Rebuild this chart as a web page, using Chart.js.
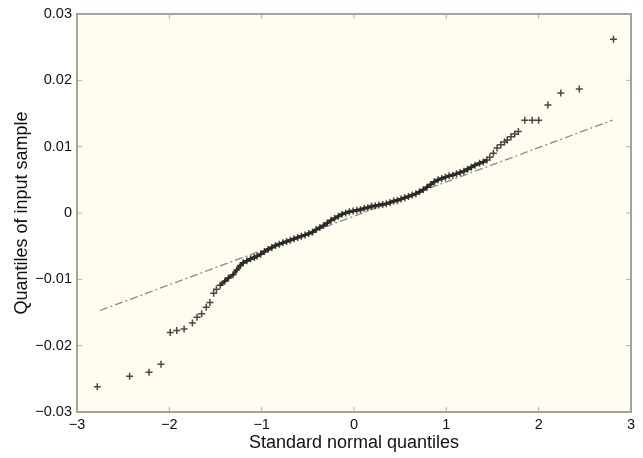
<!DOCTYPE html>
<html lang="en">
<head>
<meta charset="utf-8">
<script src="https://cdn.jsdelivr.net/npm/chart.js"></script>
<style>
  html, body { margin: 0; padding: 0; background: #ffffff; }
  #wrap { width: 643px; height: 458px; }
</style>
</head>
<body>
<div id="wrap"><canvas id="qq"></canvas></div>
<script>
// sample quantiles vs standard normal quantiles
const normalQ = [
  -2.78, -2.43, -2.22, -2.09, -1.99, -1.92, -1.84, -1.75, -1.70, -1.65, -1.60, -1.56, -1.52, -1.49,
  -1.45, -1.40, -1.36, -1.31, -1.27, -1.23, -1.20, -1.16, -1.12, -1.08, -1.05, -1.01, -0.97, -0.93,
  -0.89, -0.85, -0.81, -0.77, -0.73, -0.69, -0.65, -0.61, -0.57, -0.53, -0.49, -0.45, -0.41, -0.37,
  -0.33, -0.29, -0.25, -0.21, -0.17, -0.13, -0.09, -0.05, -0.01, 0.03, 0.07, 0.11, 0.15, 0.19,
  0.23, 0.27, 0.31, 0.35, 0.39, 0.43, 0.47, 0.51, 0.55, 0.59, 0.63, 0.67, 0.71, 0.75,
  0.79, 0.83, 0.87, 0.91, 0.95, 0.99, 1.03, 1.07, 1.11, 1.15, 1.19, 1.23, 1.27, 1.31,
  1.36, 1.40, 1.44, 1.47, 1.51, 1.55, 1.59, 1.63, 1.66, 1.70, 1.74, 1.78, 1.85, 1.93,
  2.00, 2.10, 2.24, 2.44, 2.81
];
const sampleQ = [
  -0.0262, -0.0246, -0.0240, -0.0228, -0.0180, -0.0177, -0.0175, -0.0166, -0.0157, -0.0152, -0.0142, -0.0135, -0.0121, -0.0115,
  -0.0109, -0.0103, -0.0098, -0.0093, -0.0086, -0.0079, -0.0075, -0.0072, -0.0069, -0.0067, -0.0065, -0.0062, -0.0058, -0.0055,
  -0.0052, -0.0049, -0.0047, -0.0045, -0.0043, -0.0041, -0.0039, -0.0037, -0.0035, -0.0033, -0.0031, -0.0029, -0.0025, -0.0022,
  -0.0019, -0.0015, -0.0011, -0.0008, -0.0005, -0.0002, 0.0000, 0.0002, 0.0003, 0.0004, 0.0005, 0.0007, 0.0008, 0.0010,
  0.0011, 0.0012, 0.0013, 0.0014, 0.0016, 0.0018, 0.0019, 0.0021, 0.0023, 0.0025, 0.0027, 0.0029, 0.0032, 0.0035,
  0.0039, 0.0043, 0.0047, 0.0050, 0.0052, 0.0054, 0.0056, 0.0057, 0.0059, 0.0061, 0.0063, 0.0066, 0.0069, 0.0072,
  0.0075, 0.0077, 0.0080, 0.0084, 0.0090, 0.0098, 0.0103, 0.0107, 0.0110, 0.0115, 0.0119, 0.0123, 0.0140, 0.0140,
  0.0140, 0.0163, 0.0181, 0.0187, 0.0262
];
// reference line end points
const refX = [-2.75, 2.8];
const refY = [-0.0147, 0.0140];

const xTicks = [-3, -2, -1, 0, 1, 2, 3];
const yTicks = [-0.03, -0.02, -0.01, 0, 0.01, 0.02, 0.03];

const fmt = v => {
  const r = Math.round(v * 1000) / 1000;
  if (r === 0) return '0';
  return (r < 0 ? '\u2212' : '') + String(Math.abs(r));
};

// cream plot box, frame and inward tick marks like the original
const boxPlugin = {
  id: 'box',
  beforeDraw(chart) {
    const { ctx, chartArea: a } = chart;
    ctx.save();
    ctx.fillStyle = '#fefdf0';
    ctx.fillRect(a.left, a.top, a.right - a.left, a.bottom - a.top);
    ctx.restore();
  },
  afterDraw(chart) {
    const { ctx, chartArea: a, scales } = chart;
    ctx.save();
    ctx.strokeStyle = '#b3b1a6';
    ctx.lineWidth = 1;
    ctx.beginPath();
    xTicks.forEach(t => {
      const px = scales.x.getPixelForValue(t);
      ctx.moveTo(px, a.bottom); ctx.lineTo(px, a.bottom - 5);
      ctx.moveTo(px, a.top); ctx.lineTo(px, a.top + 5);
    });
    yTicks.forEach(t => {
      const py = scales.y.getPixelForValue(t);
      ctx.moveTo(a.left, py); ctx.lineTo(a.left + 5, py);
      ctx.moveTo(a.right, py); ctx.lineTo(a.right - 5, py);
    });
    ctx.stroke();
    ctx.strokeStyle = '#a6a396';
    ctx.lineWidth = 2;
    ctx.strokeRect(a.left, a.top, a.right - a.left, a.bottom - a.top);
    ctx.restore();
  }
};

// the packed middle of the sample blurs into a thick line; tails stay separate crosses
const coreColor = ctx => {
  const inCore = ctx.p0.parsed.x >= -1.46 && ctx.p1.parsed.x <= 1.45;
  return inCore ? 'rgba(25,25,25,0.88)' : 'rgba(0,0,0,0)';
};

new Chart(document.getElementById('qq'), {
  type: 'scatter',
  data: {
    datasets: [
      {
        data: normalQ.map((x, i) => ({ x: x, y: sampleQ[i] })),
        pointStyle: 'cross',
        pointRadius: 3.5,
        pointBorderWidth: 1.5,
        pointBorderColor: 'rgba(40,40,40,0.85)',
        pointBackgroundColor: 'rgba(40,40,40,0.85)',
        showLine: true,
        borderWidth: 3.2,
        borderColor: 'rgba(25,25,25,0.88)',
        segment: { borderColor: coreColor },
        fill: false
      },
      {
        data: refX.map((x, i) => ({ x: x, y: refY[i] })),
        showLine: true,
        pointRadius: 0,
        borderColor: '#8a8a86',
        borderWidth: 1.3,
        borderDash: [8, 3, 2, 3],
        fill: false
      }
    ]
  },
  options: {
    responsive: true,
    maintainAspectRatio: false,
    animation: false,
    layout: { padding: { top: 14, right: 12, bottom: 0, left: 0 } },
    plugins: { legend: { display: false }, tooltip: { enabled: false } },
    scales: {
      x: {
        type: 'linear',
        min: -3, max: 3,
        afterFit: s => { s.height = 46; },
        afterBuildTicks: s => { s.ticks = xTicks.map(v => ({ value: v })); },
        grid: { display: false, drawTicks: false },
        border: { display: false },
        ticks: {
          padding: 4,
          color: '#111',
          font: { family: 'Liberation Sans, Arial, sans-serif', size: 14.5 },
          callback: v => fmt(v),
          maxRotation: 0
        },
        title: {
          display: true,
          text: 'Standard normal quantiles',
          color: '#111',
          font: { family: 'Liberation Sans, Arial, sans-serif', size: 18 },
          padding: { top: 0, bottom: 4 }
        }
      },
      y: {
        type: 'linear',
        min: -0.03, max: 0.03,
        afterFit: s => { s.width = 77; },
        afterBuildTicks: s => { s.ticks = yTicks.map(v => ({ value: v })); },
        grid: { display: false, drawTicks: false },
        border: { display: false },
        ticks: {
          padding: 5,
          color: '#111',
          font: { family: 'Liberation Sans, Arial, sans-serif', size: 14.5 },
          callback: v => fmt(v)
        },
        title: {
          display: true,
          text: 'Quantiles of input sample',
          color: '#111',
          font: { family: 'Liberation Sans, Arial, sans-serif', size: 18 },
          padding: { top: 11, bottom: 0 }
        }
      }
    }
  },
  plugins: [boxPlugin]
});
</script>
</body>
</html>
